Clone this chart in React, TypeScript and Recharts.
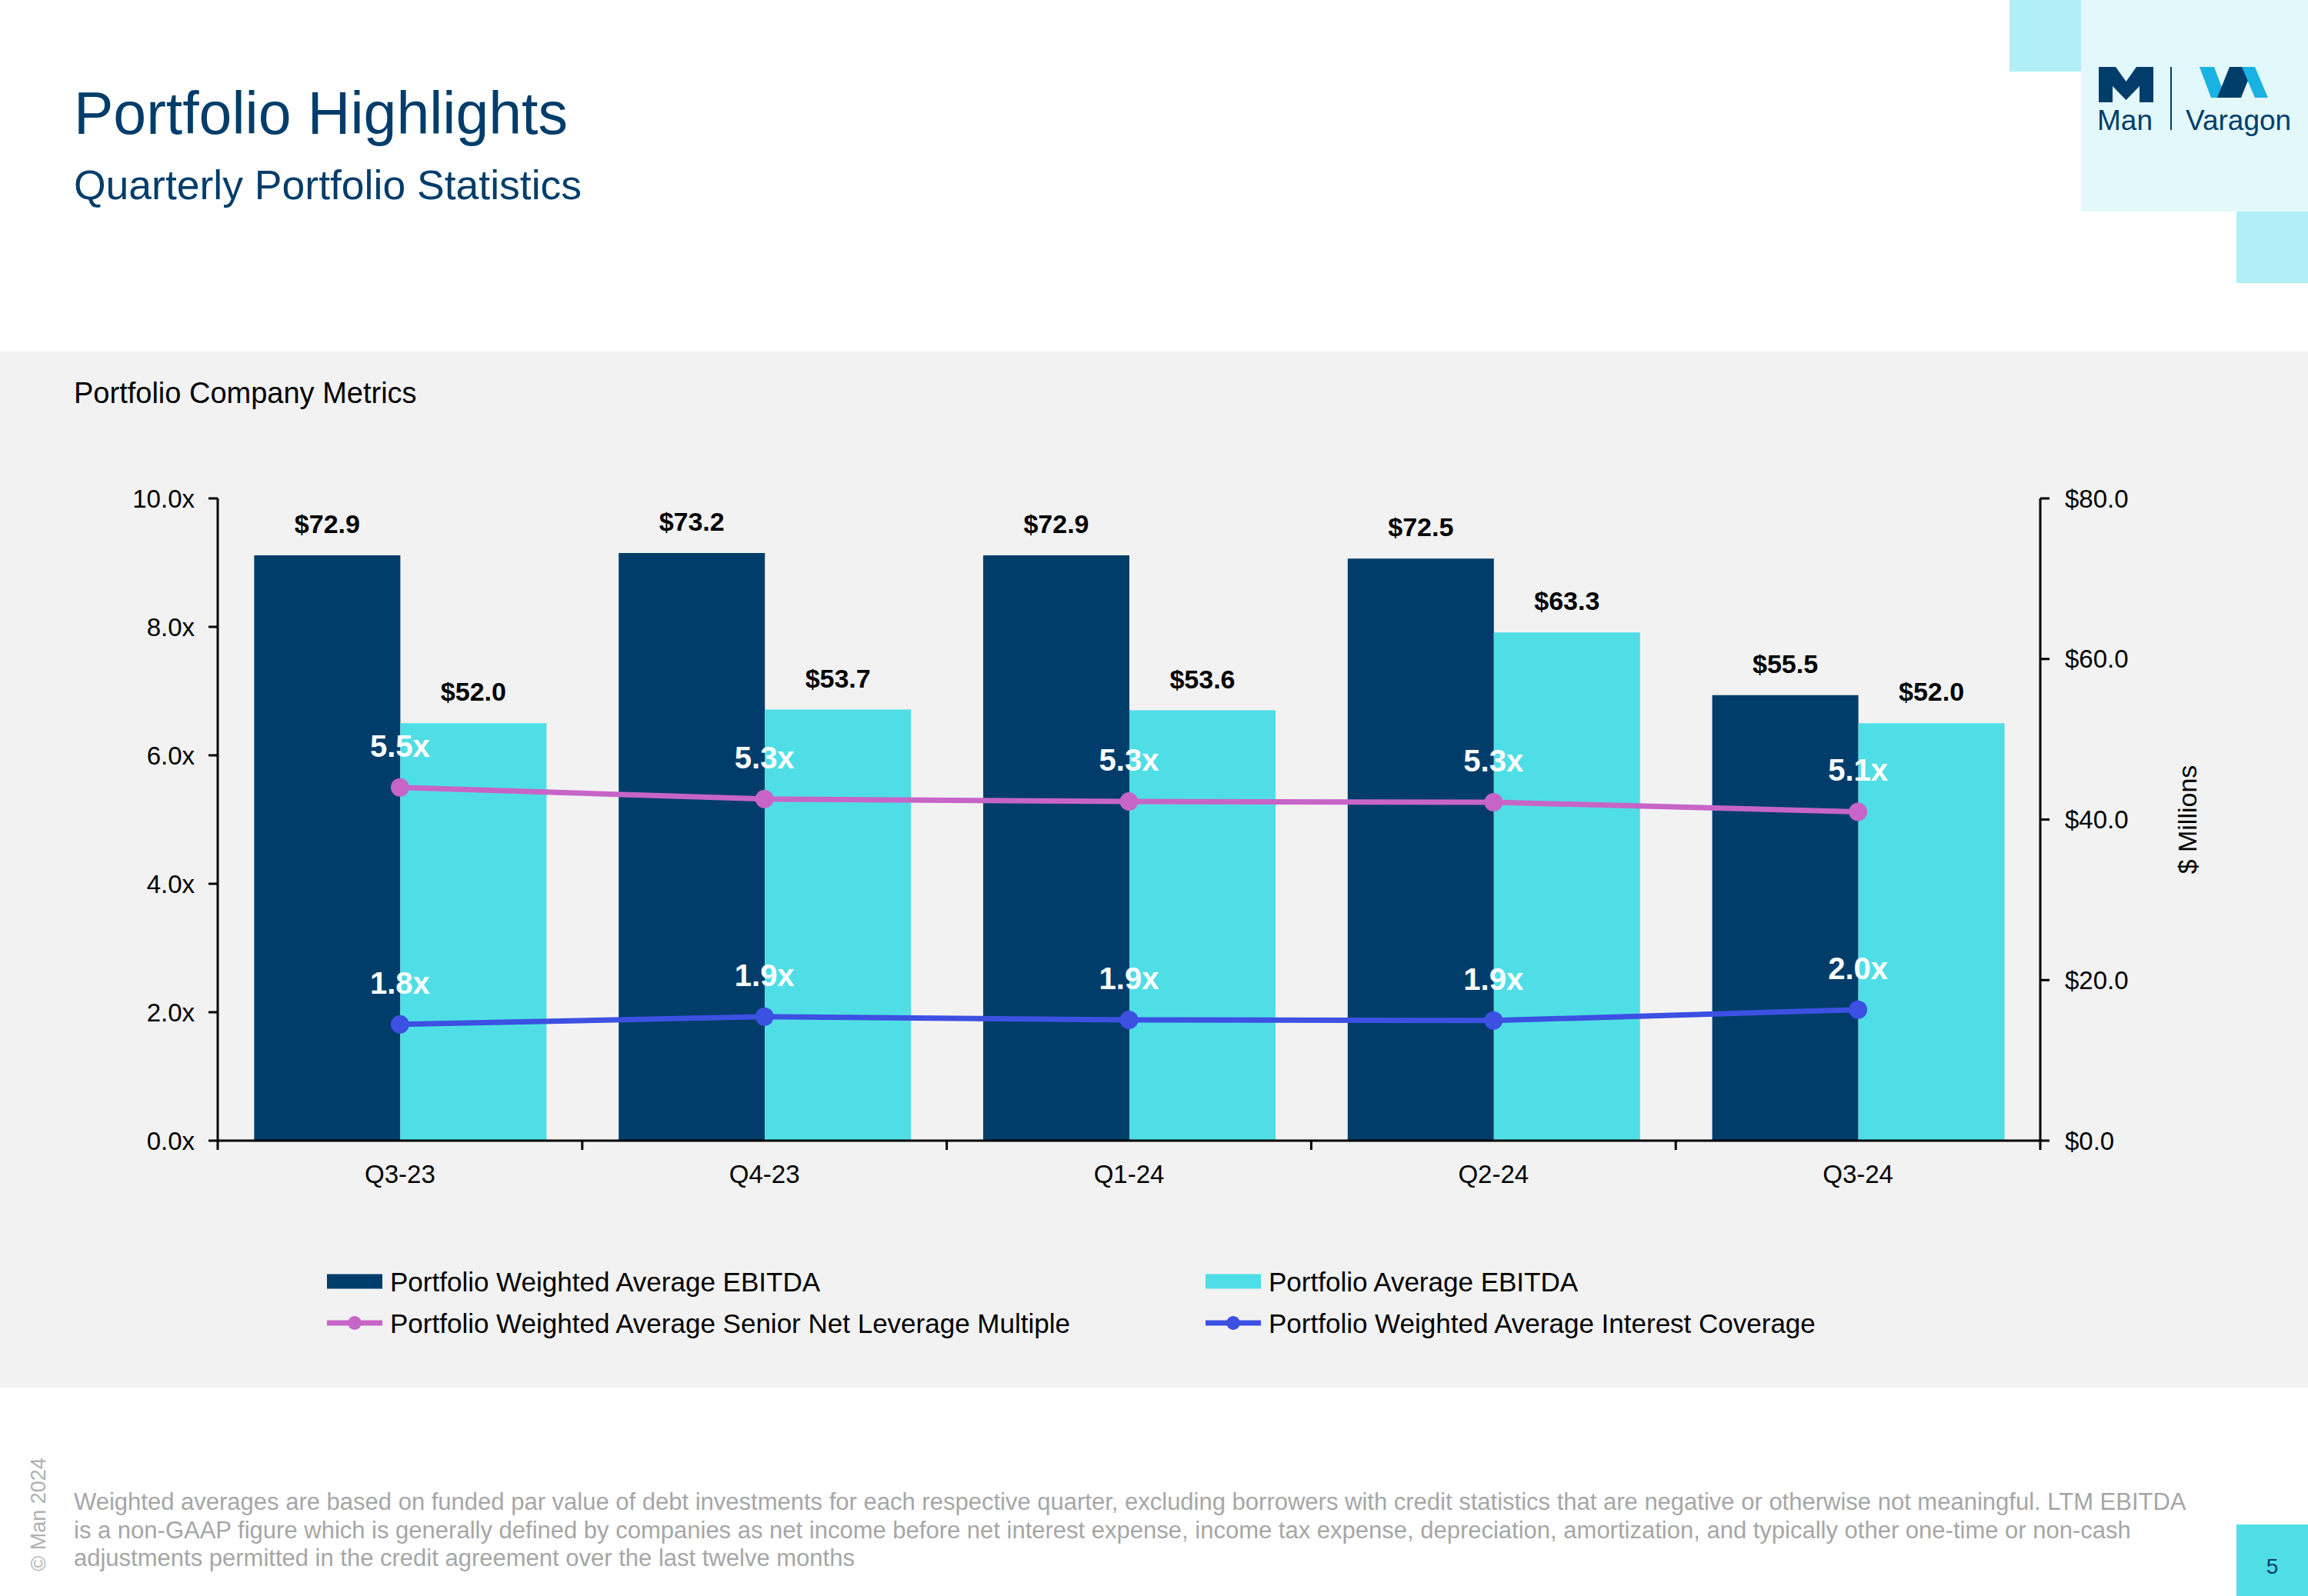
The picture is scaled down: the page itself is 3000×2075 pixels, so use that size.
import React from "react";
import { ComposedChart, Bar, Line, XAxis, YAxis, LabelList, Legend } from "recharts";

// ─── Data ───────────────────────────────────────────────────
const QUARTERS = ["Q3-23", "Q4-23", "Q1-24", "Q2-24", "Q3-24"];
const WEIGHTED_EBITDA = [72.9, 73.2, 72.9, 72.5, 55.5];
const AVERAGE_EBITDA = [52.0, 53.7, 53.6, 63.3, 52.0];
const SENIOR_LEVERAGE = [5.5, 5.32, 5.28, 5.27, 5.12];
const INTEREST_COVERAGE = [1.81, 1.93, 1.88, 1.87, 2.04];
const LEFT_TICKS = [0, 2, 4, 6, 8, 10];
const RIGHT_TICKS = [0, 20, 40, 60, 80];

const NAME_WEIGHTED = "Portfolio Weighted Average EBITDA";
const NAME_AVERAGE = "Portfolio Average EBITDA";
const NAME_LEVERAGE = "Portfolio Weighted Average Senior Net Leverage Multiple";
const NAME_COVERAGE = "Portfolio Weighted Average Interest Coverage";

const FOOTNOTE = [
  "Weighted averages are based on funded par value of debt investments for each respective quarter, excluding borrowers with credit statistics that are negative or otherwise not meaningful. LTM EBITDA",
  "is a non-GAAP figure which is generally defined by companies as net income before net interest expense, income tax expense, depreciation, amortization, and typically other one-time or non-cash",
  "adjustments permitted in the credit agreement over the last twelve months",
];

// ─── Styles ─────────────────────────────────────────────────
const FONT = '"Liberation Sans", Arial, Helvetica, sans-serif';
const NAVY = "#003D6A";
const CYAN = "#50DEE6";
const PINK = "#C764C8";
const BLUE = "#3C50E1";
const PANEL = "#F2F2F2";

const data = QUARTERS.map((q, i) => ({
  quarter: q,
  weighted: WEIGHTED_EBITDA[i],
  average: AVERAGE_EBITDA[i],
  leverage: SENIOR_LEVERAGE[i],
  coverage: INTEREST_COVERAGE[i],
}));

const LEGEND_ITEMS = [
  { name: NAME_WEIGHTED, color: NAVY, kind: "rect" },
  { name: NAME_AVERAGE, color: CYAN, kind: "rect" },
  { name: NAME_LEVERAGE, color: PINK, kind: "line" },
  { name: NAME_COVERAGE, color: BLUE, kind: "line" },
];

// x-axis ticks sit between categories, labels in the middle
function QuarterTick(props: any) {
  const { x, y, payload } = props;
  const half =
    typeof payload?.offset === "number" && payload.offset > 0
      ? payload.offset
      : (2652 - 283) / QUARTERS.length / 2;
  const isLast = payload?.value === QUARTERS[QUARTERS.length - 1];
  return (
    <g>
      <line x1={x - half} x2={x - half} y1={y} y2={y + 12} stroke="#000" strokeWidth={3} />
      {isLast && <line x1={x + half} x2={x + half} y1={y} y2={y + 12} stroke="#000" strokeWidth={3} />}
      <text x={x} y={y + 55} textAnchor="middle" fontSize={33} fill="#000" fontFamily={FONT}>
        {payload?.value}
      </text>
    </g>
  );
}

function barLabel(props: any) {
  const { x, y, width, value } = props;
  return (
    <text
      x={Number(x) + Number(width) / 2}
      y={Number(y) - 29}
      textAnchor="middle"
      fontSize={34}
      fontWeight={700}
      fill="#000"
      fontFamily={FONT}
    >
      {`$${Number(value).toFixed(1)}`}
    </text>
  );
}

function lineLabel(props: any) {
  const { x, y, value } = props;
  return (
    <text x={x} y={Number(y) - 40} textAnchor="middle" fontSize={40} fontWeight={700} fill="#fff" fontFamily={FONT}>
      {`${Number(value).toFixed(1)}x`}
    </text>
  );
}

function millionsLabel(props: any) {
  const vb = props.viewBox || { x: 2652, y: 648, width: 348, height: 835 };
  const cx = vb.x + 191;
  const cy = vb.y + vb.height / 2;
  return (
    <text
      x={cx}
      y={cy}
      transform={`rotate(-90, ${cx}, ${cy})`}
      textAnchor="middle"
      dominantBaseline="central"
      fontSize={34}
      fill="#000"
      fontFamily={FONT}
    >
      $ Millions
    </text>
  );
}

function renderLegend() {
  return (
    <div style={{ display: "grid", gridTemplateColumns: "1142px 1000px", fontFamily: FONT, fontSize: 35, color: "#000" }}>
      {LEGEND_ITEMS.map((item) => (
        <div key={item.name} style={{ display: "flex", alignItems: "center", height: 54 }}>
          <svg width={72} height={30} style={{ marginRight: 10, flex: "none" }}>
            {item.kind === "rect" ? (
              <rect x={0} y={5.5} width={72} height={19} fill={item.color} />
            ) : (
              <>
                <line x1={0} x2={72} y1={15} y2={15} stroke={item.color} strokeWidth={7} />
                <circle cx={36} cy={15} r={9} fill={item.color} />
              </>
            )}
          </svg>
          <span style={{ whiteSpace: "nowrap", lineHeight: 1 }}>{item.name}</span>
        </div>
      ))}
    </div>
  );
}

function Logo() {
  return (
    <svg width={400} height={380} style={{ position: "absolute", left: 2600, top: 0 }}>
      <rect x={12} y={0} width={93} height={93} fill="#AFEFF5" />
      <rect x={105} y={0} width={295} height={275} fill="#E2F8FB" />
      <rect x={307} y={275} width={93} height={93} fill="#AFEFF5" />
      <polygon
        points="128,87 150,87 163.5,106 177,87 199,87 199,133 181,133 181,112 163.5,130 146,112 146,133 128,133"
        fill={NAVY}
      />
      <text x={126} y={169} fontSize={37} fill={NAVY} fontFamily={FONT}>Man</text>
      <line x1={222} x2={222} y1={87} y2={169} stroke={NAVY} strokeWidth={2} />
      <polygon points="259,87 278,87 293,127 274,127" fill="#19B2E3" />
      <polygon points="282,127 299,127 315,87 298,87" fill={NAVY} />
      <polygon points="296,127 313,127 329,87 312,87" fill={NAVY} />
      <polygon points="314,87 331,87 348,127 331,127" fill="#19B2E3" />
      <text x={241} y={169} fontSize={37} fill={NAVY} fontFamily={FONT}>Varagon</text>
    </svg>
  );
}

export default function App() {
  return (
    <div
      style={{
        position: "absolute",
        left: 0,
        top: 0,
        width: 3000,
        height: 2075,
        background: "#fff",
        overflow: "hidden",
        fontFamily: FONT,
      }}
    >
      <Logo />
      <div style={{ position: "absolute", left: 96, top: 109, fontSize: 77, lineHeight: 1, color: NAVY, whiteSpace: "nowrap" }}>
        Portfolio Highlights
      </div>
      <div style={{ position: "absolute", left: 96, top: 214, fontSize: 53.5, lineHeight: 1, color: NAVY, whiteSpace: "nowrap" }}>
        Quarterly Portfolio Statistics
      </div>

      <div style={{ position: "absolute", left: 0, top: 457, width: 3000, height: 1347, background: PANEL }} />
      <div style={{ position: "absolute", left: 96, top: 492, fontSize: 38, lineHeight: 1, color: "#000", whiteSpace: "nowrap" }}>
        Portfolio Company Metrics
      </div>

      <div style={{ position: "absolute", left: 0, top: 457 }}>
        <ComposedChart
          width={3000}
          height={1347}
          data={data}
          margin={{ top: 191, right: 0, bottom: 241, left: 0 }}
          barCategoryGap="10%"
          barGap={0}
        >
          <XAxis
            dataKey="quarter"
            height={80}
            interval={0}
            tickSize={0}
            tickLine={false}
            tickMargin={0}
            axisLine={{ stroke: "#000", strokeWidth: 3 }}
            tick={<QuarterTick />}
          />
          <YAxis
            yAxisId="left"
            orientation="left"
            width={283}
            domain={[0, 10]}
            ticks={LEFT_TICKS}
            interval={0}
            tickSize={12}
            tickMargin={18}
            tickFormatter={(v: number) => `${v.toFixed(1)}x`}
            axisLine={{ stroke: "#000", strokeWidth: 3 }}
            tickLine={{ stroke: "#000", strokeWidth: 3 }}
            tick={{ fill: "#000", fontSize: 33, fontFamily: FONT }}
          />
          <YAxis
            yAxisId="right"
            orientation="right"
            width={348}
            domain={[0, 80]}
            ticks={RIGHT_TICKS}
            interval={0}
            tickSize={12}
            tickMargin={20}
            tickFormatter={(v: number) => `$${v.toFixed(1)}`}
            axisLine={{ stroke: "#000", strokeWidth: 3 }}
            tickLine={{ stroke: "#000", strokeWidth: 3 }}
            tick={{ fill: "#000", fontSize: 33, fontFamily: FONT }}
            label={millionsLabel}
          />
          <Bar yAxisId="right" dataKey="weighted" name={NAME_WEIGHTED} fill={NAVY} isAnimationActive={false}>
            <LabelList dataKey="weighted" content={barLabel} />
          </Bar>
          <Bar yAxisId="right" dataKey="average" name={NAME_AVERAGE} fill={CYAN} isAnimationActive={false}>
            <LabelList dataKey="average" content={barLabel} />
          </Bar>
          <Line
            yAxisId="left"
            dataKey="leverage"
            name={NAME_LEVERAGE}
            stroke={PINK}
            strokeWidth={7}
            dot={{ r: 12, fill: PINK, stroke: "none" }}
            activeDot={false}
            isAnimationActive={false}
          >
            <LabelList dataKey="leverage" content={lineLabel} />
          </Line>
          <Line
            yAxisId="left"
            dataKey="coverage"
            name={NAME_COVERAGE}
            stroke={BLUE}
            strokeWidth={7}
            dot={{ r: 12, fill: BLUE, stroke: "none" }}
            activeDot={false}
            isAnimationActive={false}
          >
            <LabelList dataKey="coverage" content={lineLabel} />
          </Line>
          <Legend
            layout="horizontal"
            verticalAlign="middle"
            align="center"
            content={renderLegend}
            wrapperStyle={{ top: 1182, left: 425, width: 2200, height: 108 }}
          />
        </ComposedChart>
      </div>

      <div
        style={{
          position: "absolute",
          left: 50,
          top: 1969,
          transform: "translate(-50%, -50%) rotate(-90deg)",
          fontSize: 27,
          lineHeight: 1,
          color: "#B0B0B0",
          whiteSpace: "nowrap",
        }}
      >
        © Man 2024
      </div>
      <div style={{ position: "absolute", left: 96, top: 1935, fontSize: 31, lineHeight: "36.5px", color: "#A6A6A6", whiteSpace: "nowrap" }}>
        {FOOTNOTE.map((line) => (
          <div key={line}>{line}</div>
        ))}
      </div>
      <div
        style={{
          position: "absolute",
          left: 2907,
          top: 1982,
          width: 93,
          height: 93,
          paddingTop: 16,
          boxSizing: "border-box",
          background: CYAN,
          color: NAVY,
          fontSize: 28,
          display: "flex",
          alignItems: "center",
          justifyContent: "center",
        }}
      >
        5
      </div>
    </div>
  );
}
